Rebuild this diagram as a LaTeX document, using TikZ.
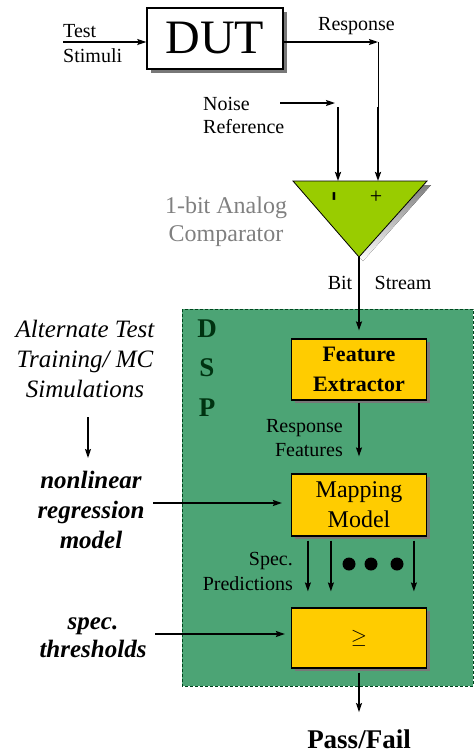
\documentclass[tikz,border=0pt]{standalone}
\usepackage{fontspec}
\setmainfont{Liberation Serif}
\usetikzlibrary{arrows.meta, positioning, calc, shadows}
\definecolor{cmpgreen}{RGB}{153, 204, 0}
\definecolor{dspfill}{RGB}{76, 164, 117}
\definecolor{dspline}{RGB}{0, 70, 30}
\definecolor{dspletter}{RGB}{0, 51, 17}
\definecolor{blockfill}{RGB}{255, 204, 0}
\definecolor{shade}{RGB}{120, 120, 120}
\newcommand{\fsz}[2]{\fontsize{#1}{#2}\selectfont}

\begin{document}
\begin{tikzpicture}[x=1pt, y=-1pt,
  >={Stealth[length=9pt, width=6pt, inset=1.5pt]},
  every node/.style={inner sep=0pt},
  sig/.style={font=\fsz{20}{25}},
  block/.style={draw, line width=1.2pt, fill=blockfill, minimum width=135pt,
    minimum height=61pt, align=center,
    drop shadow={shadow xshift=3pt, shadow yshift=-3pt, fill=shade, opacity=1}},
  wire/.style={->, line width=1.3pt},
  lefttext/.style={align=center, font=\fsz{25}{30}\itshape}]
  \useasboundingbox (0,0) rectangle (474,756);

  % DSP region
  \draw[dspline, dash pattern=on 3pt off 2pt, fill=dspfill, line width=0.9pt]
    (182,309) rectangle (473,686);
  \foreach \ch/\yy in {D/337, S/376, P/416}
    \node[font=\fsz{27}{27}\bfseries, text=dspletter, anchor=base] (dsp\ch)
      at (207,\yy) {\ch};

  % DUT and its stimulus / response
  \node[draw, line width=1.4pt, fill=white, minimum width=136pt,
    minimum height=61pt, font=\fsz{48}{50},
    drop shadow={shadow xshift=4pt, shadow yshift=-4pt, fill=shade, opacity=1}]
    (dut) at (215,38.5) {DUT};
  \node[sig, align=left, anchor=west] (stim) at (63,44) {Test\\Stimuli};
  \coordinate (stimin) at (63,42);
  \draw[wire] (stimin) -- (stimin -| dut.west);
  \node[sig, anchor=base west] (resp) at (318,30) {Response};
  \coordinate (respcorner) at (378,42);
  \draw[wire] (dut.east |- respcorner) -- (respcorner);

  % Comparator
  \coordinate (cmpL) at (293,181);
  \coordinate (cmpR) at (427,181);
  \coordinate (cmpT) at (359,257);
  \fill[shade] ($(cmpL)+(4,4)$) -- ($(cmpR)+(4,4)$) -- ($(cmpT)+(4,4)$) -- cycle;
  \draw[fill=cmpgreen, line width=0.8pt] (cmpL) -- (cmpR) -- (cmpT) -- cycle;
  \node[font=\fsz{30}{30}\bfseries, rotate=90] (minus) at (337,196) {-};
  \node[font=\fsz{22}{22}] (plus) at (376,197) {+};
  \node[font=\fsz{24}{28}, text=gray, align=center] (cmplabel) at (226,222)
    {1-bit Analog\\Comparator};

  % Comparator inputs
  \node[sig, font=\fsz{20}{23}, align=left, anchor=west] (noise) at (203,115)
    {Noise\\Reference};
  \coordinate (noisein) at (280,103);
  \coordinate (noisetip) at (335,103);
  \coordinate (minustop) at (338,107);
  \coordinate (plustop) at (378,107);
  \coordinate (minusin) at (338,181);
  \coordinate (plusin) at (378,181);
  \draw[wire] (noisein) -- (noisetip);
  \draw[line width=1pt] (respcorner) -- (plustop);
  \draw[->, line width=2.8pt] (plustop) -- (plusin);
  \draw[->, line width=2.8pt] (minustop) -- (minusin);

  % Bit stream
  \node[sig, anchor=base] (bit) at (340,289) {Bit};
  \node[sig, anchor=base] (stream) at (403,289) {Stream};

  % DSP blocks
  \node[block, font=\fsz{22}{30}\bfseries] (fe) at (359,369.5) {Feature\\Extractor};
  \node[block, font=\fsz{24}{30}, minimum height=62pt] (mm) at (359,505)
    {Mapping\\Model};
  \node[block, font=\fsz{22}{22}, minimum height=60pt] (ge) at (359,638) {$\geq$};

  \draw[line width=1.6pt, ->, shorten >=8pt] (cmpT) -- (fe.north);
  \draw[wire, shorten <=2pt, shorten >=17pt] (fe) -- (mm);
  \node[sig, font=\fsz{20}{24}, align=right, anchor=east] (feat) at (343,438.5)
    {Response\\Features};

  % Spec predictions
  \foreach \dx in {17,40,123}
    \draw[wire, shorten <=4pt, shorten >=16pt]
      ($(mm.south west)+(\dx,0)$) -- ($(ge.north west)+(\dx,0)$);
  \foreach \px in {349,371,397}
    \fill (\px,564) circle (6.5pt);
  \node[sig, align=right, anchor=east] (pred) at (293,571) {Spec.\\Predictions};

  % Off-line side
  \node[lefttext] (alt) at (85,359) {Alternate Test\\Training/ MC\\Simulations};
  \coordinate (altout) at (88,417);
  \coordinate (regtop) at (88,458);
  \draw[wire] (altout) -- (regtop);
  \node[font=\fsz{25}{30}\bfseries\itshape, align=center] (reg) at (91,509.5)
    {nonlinear\\regression\\model};
  \coordinate (regout) at (153,503);
  \draw[wire, shorten >=9pt] (regout) -- (regout -| mm.west);
  \node[font=\fsz{25}{28}\bfseries\itshape, align=center] (thr) at (93,638)
    {spec.\\thresholds};
  \coordinate (throut) at (155,634);
  \draw[wire, shorten >=6pt] (throut) -- (throut -| ge.west);

  % Result
  \node[font=\fsz{27}{27}\bfseries, anchor=base] (verdict) at (359,748) {Pass/Fail};
  \draw[wire, shorten <=4pt, shorten >=17pt] (ge.south) -- (verdict.north);
\end{tikzpicture}
\end{document}
